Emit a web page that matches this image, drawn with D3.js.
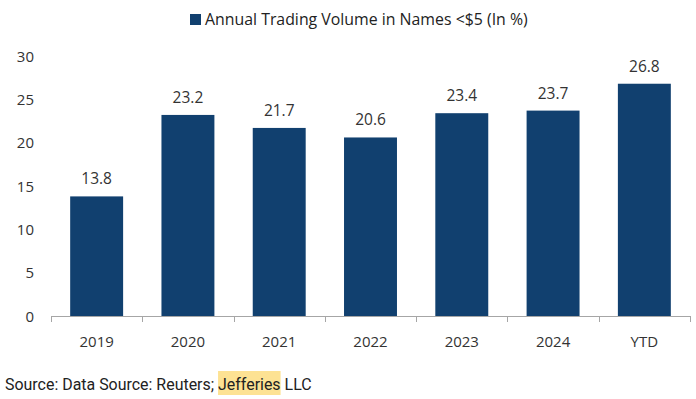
<!DOCTYPE html>
<html>
<head>
<meta charset="utf-8">
<script src="https://cdn.jsdelivr.net/npm/d3@7"></script>
<style>
  html, body { margin: 0; padding: 0; background: #fff; }
</style>
</head>
<body>
<div id="chart"></div>
<script>
const categories = ['2019', '2020', '2021', '2022', '2023', '2024', 'YTD'];
const values = [13.8, 23.2, 21.7, 20.6, 23.4, 23.7, 26.8];
const yTicks = [0, 5, 10, 15, 20, 25, 30];
const seriesName = 'Annual Trading Volume in Names <$5 (In %)';

const width = 696, height = 399;
const barColor = '#11406f';
const textColor = '#333333';

const svg = d3.select('#chart').append('svg')
  .attr('width', width)
  .attr('height', height);

const x = d3.scaleBand()
  .domain(categories)
  .range([51, 690])
  .paddingInner(0.42)
  .paddingOuter(0.21);

const y = d3.scaleLinear()
  .domain([0, 30])
  .range([316, 56]);

// legend
const legend = svg.append('g');
legend.append('rect')
  .attr('x', 190).attr('y', 14)
  .attr('width', 11).attr('height', 11)
  .attr('fill', barColor);
const legendText = legend.append('text')
  .attr('x', 205).attr('y', 24.5)
  .attr('font-family', 'Open Sans')
  .attr('font-size', 15)
  .attr('fill', '#222')
  .text(seriesName);
// fit legend to reference width
const lw = legendText.node().getComputedTextLength();
legendText.attr('font-size', 15 * 323 / lw);

// y axis labels (no line)
svg.append('g')
  .selectAll('text')
  .data(yTicks)
  .join('text')
  .attr('x', 34)
  .attr('y', d => y(d) + 5.5)
  .attr('text-anchor', 'end')
  .attr('font-family', 'Open Sans')
  .attr('font-size', 15)
  .attr('fill', textColor)
  .text(d => d);

// bars
svg.append('g')
  .selectAll('rect')
  .data(values)
  .join('rect')
  .attr('x', (d, i) => x(categories[i]))
  .attr('y', d => y(d))
  .attr('width', x.bandwidth())
  .attr('height', d => y(0) - y(d))
  .attr('fill', barColor);

// value labels
svg.append('g')
  .selectAll('text')
  .data(values)
  .join('text')
  .attr('x', (d, i) => x(categories[i]) + x.bandwidth() / 2)
  .attr('y', d => y(d) - 12)
  .attr('text-anchor', 'middle')
  .attr('font-family', 'Open Sans')
  .attr('font-size', 15.5)
  .attr('fill', textColor)
  .text(d => d.toFixed(1));

// x axis line and ticks between bands
const axisG = svg.append('g');
axisG.append('line')
  .attr('x1', 51).attr('x2', 690)
  .attr('y1', y(0) + 0.5).attr('y2', y(0) + 0.5)
  .attr('stroke', '#a6a6a6');
const boundaries = categories.map(c => x(c) - x.step() * x.paddingInner() / 2)
  .concat([690]);
axisG.selectAll('.tick')
  .data(boundaries)
  .join('line')
  .attr('class', 'tick')
  .attr('x1', d => Math.round(d) + 0.5).attr('x2', d => Math.round(d) + 0.5)
  .attr('y1', y(0)).attr('y2', y(0) + 6)
  .attr('stroke', '#a6a6a6');
axisG.selectAll('.xlabel')
  .data(categories)
  .join('text')
  .attr('class', 'xlabel')
  .attr('x', d => x(d) + x.bandwidth() / 2)
  .attr('y', 346.5)
  .attr('text-anchor', 'middle')
  .attr('font-family', 'Open Sans')
  .attr('font-size', 15)
  .attr('fill', textColor)
  .text(d => d);

// source line with highlighted word
const src = svg.append('g');
const hl = src.append('rect')
  .attr('fill', '#fde293');
const srcText = src.append('text')
  .attr('x', 5).attr('y', 390)
  .attr('font-family', 'Roboto')
  .attr('font-size', 15)
  .attr('fill', '#222');
srcText.append('tspan').text('Source: Data Source: Reuters; ');
const jef = srcText.append('tspan').text('Jefferies');
srcText.append('tspan').text(' LLC');
const sw = srcText.node().getComputedTextLength();
srcText.attr('font-size', 15 * 307 / sw);
const bb = jef.node().getBBox();
hl.attr('x', bb.x).attr('y', 371)
  .attr('width', bb.width).attr('height', 24);
</script>
</body>
</html>
